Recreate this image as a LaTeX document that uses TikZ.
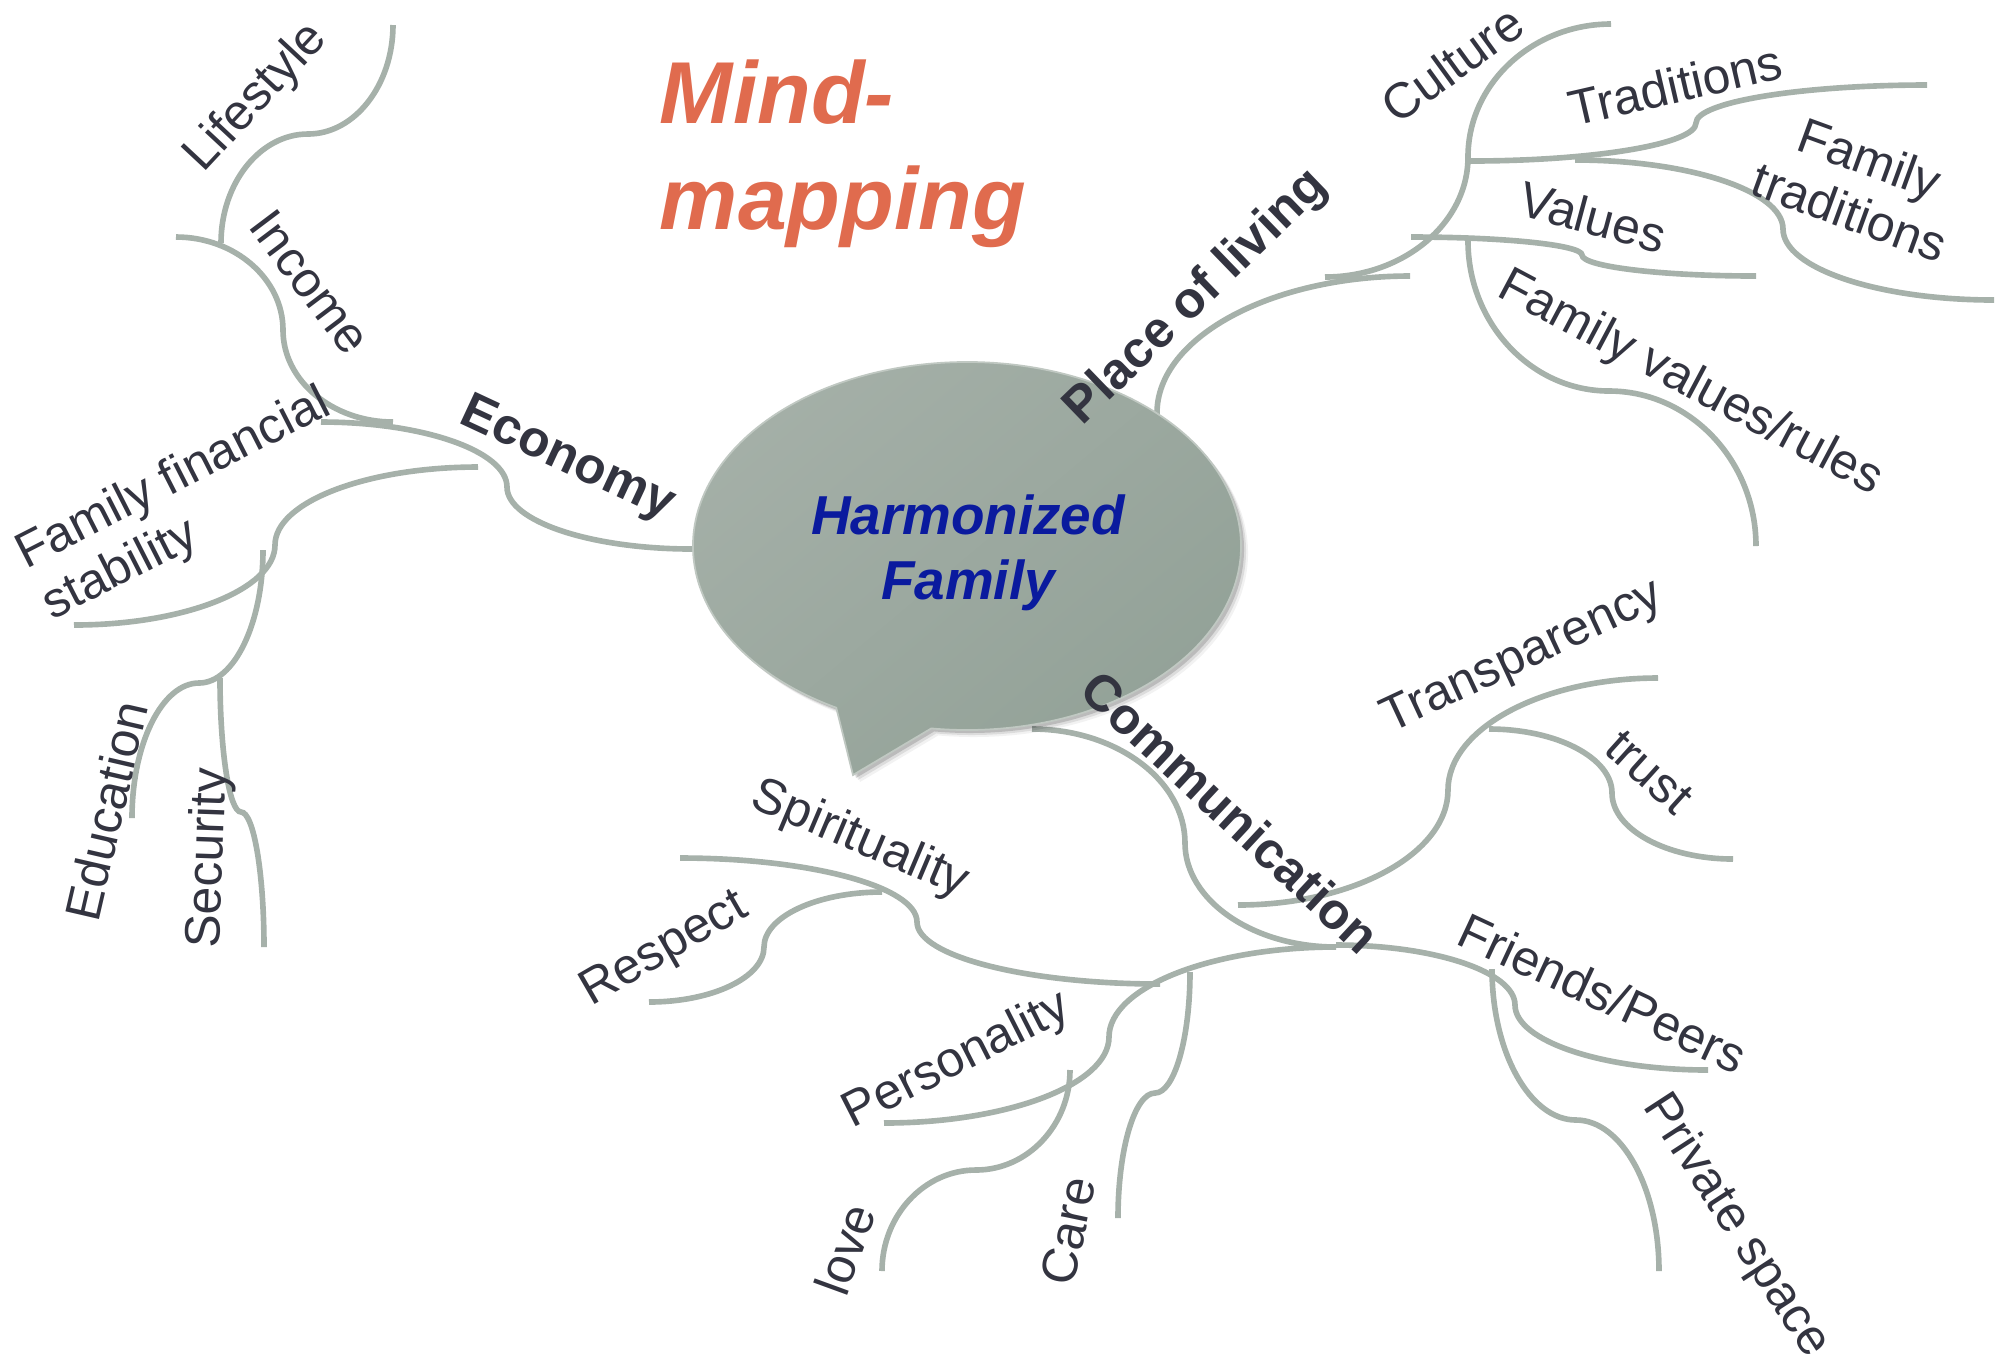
\documentclass[tikz,border=0pt]{standalone}
\usepackage{fontspec}
\setmainfont{Liberation Sans}
\usetikzlibrary{calc}
\definecolor{brc}{RGB}{166,177,170}
\definecolor{txc}{RGB}{51,52,64}
\definecolor{ttl}{RGB}{224,107,78}
\definecolor{hfc}{RGB}{10,26,158}
\definecolor{bubL}{RGB}{165,176,168}
\definecolor{bubD}{RGB}{146,161,151}
\newcommand\lblf{\fontsize{14.2}{16.2}\selectfont}
\newcommand\catf{\fontsize{14.5}{17}\selectfont\bfseries}
\newcommand\hff{\fontsize{15.6}{18.5}\selectfont\bfseries\itshape}
\newcommand\ttlf{\fontsize{25}{30.2}\selectfont\bfseries\itshape}
% S-branch: horizontal tangents at the ends, vertical at the middle
\newcommand\brH[3]{\draw[br] (#1) .. controls ($(#1)!0.55!(#2 |- #1)$) and ($(#2)!0.55!(#2 |- #1)$) .. (#2) .. controls ($(#2)!0.55!(#2 |- #3)$) and ($(#3)!0.55!(#2 |- #3)$) .. (#3);}
% S-branch: vertical tangents at the ends, horizontal at the middle
\newcommand\brV[3]{\draw[br] (#1) .. controls ($(#1)!0.55!(#1 |- #2)$) and ($(#2)!0.55!(#1 |- #2)$) .. (#2) .. controls ($(#2)!0.55!(#3 |- #2)$) and ($(#3)!0.55!(#3 |- #2)$) .. (#3);}
\begin{document}
\begin{tikzpicture}[x=0.01cm,y=-0.01cm,
  br/.style={draw=brc, line width=1.6pt},
  lbl/.style={text=txc, inner sep=0pt, font=\lblf},
  catl/.style={text=txc, inner sep=0pt, font=\catf}]
\useasboundingbox (0,0) rectangle (2002,1362);
% ---------- branch points ----------
% Economy
\coordinate (ea) at (692,549);  \coordinate (em) at (507,487);  \coordinate (eb) at (321,422);
\coordinate (la) at (393,25);   \coordinate (lm) at (308,134);  \coordinate (lb) at (221,243);
\coordinate (ia) at (176,237);  \coordinate (im) at (283,330);  \coordinate (ib) at (393,422);
\coordinate (fa) at (478,467);  \coordinate (fm) at (275,545);  \coordinate (fb) at (74,625);
\coordinate (da) at (263,550);  \coordinate (dm) at (199,683);  \coordinate (db) at (132,818);
\coordinate (sa) at (220,678);  \coordinate (sm) at (241,812);  \coordinate (sb) at (264,947);
% Place of living
\coordinate (pa) at (1410,276); \coordinate (pm) at (1157,413); \coordinate (pb) at (904,550);
\coordinate (ca) at (1611,24);  \coordinate (cm) at (1468,157); \coordinate (cb) at (1325,277);
\coordinate (ta) at (1470,161); \coordinate (tm) at (1696,123); \coordinate (tb) at (1927,85);
\coordinate (fta) at (1575,160); \coordinate (ftm) at (1783,229); \coordinate (ftb) at (1994,300);
\coordinate (va) at (1411,237); \coordinate (vm) at (1582,255); \coordinate (vb) at (1756,276);
\coordinate (fva) at (1468,241); \coordinate (fvm) at (1609,391); \coordinate (fvb) at (1756,546);
% Communication
\coordinate (ka) at (1032,729); \coordinate (km) at (1185,843); \coordinate (kb) at (1336,947);
\coordinate (tra) at (1658,678); \coordinate (trm) at (1448,790); \coordinate (trb) at (1238,905);
\coordinate (ua) at (1489,729); \coordinate (um) at (1612,793); \coordinate (ub) at (1733,859);
\coordinate (fra) at (1336,945); \coordinate (frm) at (1515,1005); \coordinate (frb) at (1708,1070);
\coordinate (pra) at (1492,969); \coordinate (prm) at (1576,1120); \coordinate (prb) at (1659,1271);
\coordinate (pea) at (1336,947); \coordinate (pem) at (1109,1037); \coordinate (peb) at (884,1123);
\coordinate (spa) at (1160,984); \coordinate (spm) at (917,922); \coordinate (spb) at (680,858);
\coordinate (rea) at (882,892); \coordinate (rem) at (764,947); \coordinate (reb) at (649,1002);
\coordinate (loa) at (1070,1070); \coordinate (lom) at (976,1170); \coordinate (lob) at (882,1271);
\coordinate (caa) at (1190,972); \coordinate (cam) at (1155,1093); \coordinate (cab) at (1118,1218);
% ---------- branches ----------
\brH{ea}{em}{eb} \brV{la}{lm}{lb} \brH{ia}{im}{ib} \brH{fa}{fm}{fb}
\brV{da}{dm}{db} \brV{sa}{sm}{sb}
\brH{pa}{pm}{pb} \brH{ca}{cm}{cb} \brH{ta}{tm}{tb} \brH{fta}{ftm}{ftb}
\brH{va}{vm}{vb} \brV{fva}{fvm}{fvb}
\brH{ka}{km}{kb} \brH{tra}{trm}{trb} \brH{ua}{um}{ub} \brH{fra}{frm}{frb}
\brV{pra}{prm}{prb} \brH{pea}{pem}{peb} \brH{spa}{spm}{spb} \brH{rea}{rem}{reb}
\brV{loa}{lom}{lob} \brV{caa}{cam}{cab}
% ---------- central speech bubble ----------
\foreach \s/\o in {7/0.05,5/0.09,3/0.15}{
  \fill[black, opacity=\o] (967+\s,546+\s) ++(118.5:274 and 184)
    arc[start angle=118.5, end angle=457.5, x radius=274, y radius=184]
    -- (853+\s,775+\s) -- cycle;}
\shade[top color=bubL, middle color=bubL, bottom color=bubD, shading angle=40,
       draw=bubL!70!white, line width=0.5pt]
  (967,546) ++(118.5:274 and 184)
  arc[start angle=118.5, end angle=457.5, x radius=274, y radius=184]
  -- (853,775) -- cycle;
\node[text=hfc, font=\hff, align=center, inner sep=0pt] (hub) at (968,553) {Harmonized\\Family};
% ---------- title ----------
\node[text=ttl, font=\ttlf, align=left, inner sep=0pt] (title) at (843,154) {Mind-\\mapping};
% ---------- labels ----------
\node[lbl, rotate=47] (lifestyle) at (257,98) {Lifestyle};
\node[lbl, rotate=-53] (income) at (310,282) {Income};
\node[catl, rotate=-25] (economy) at (567,460) {Economy};
\node[lbl, rotate=27, align=left] (ffs) at (187,505) {Family financial\\stability};
\node[lbl, rotate=77] (education) at (106,811) {Education};
\node[lbl, rotate=88] (security) at (210,858) {Security};
\node[catl, rotate=44] (place) at (1197,298) {Place of living};
\node[lbl, rotate=36] (culture) at (1452,64) {Culture};
\node[lbl, rotate=13] (traditions) at (1675,85) {Traditions};
\node[lbl, rotate=-20, align=center] (famtrad) at (1860,185) {Family\\traditions};
\node[lbl, rotate=-15] (values) at (1593,217) {Values};
\node[lbl, rotate=-28] (famval) at (1690,384) {Family values/rules};
\node[lbl, rotate=25] (transp) at (1523,658) {Transparency};
\node[lbl, rotate=-42] (trust) at (1649,772) {trust};
\node[catl, rotate=-43] (comm) at (1231,812) {Communication};
\node[lbl, rotate=-25] (friends) at (1603,993) {Friends/Peers};
\node[lbl, rotate=-57] (private) at (1736,1226) {Private space};
\node[lbl, rotate=-23] (spirit) at (860,840) {Spirituality};
\node[lbl, rotate=30] (respect) at (665,950) {Respect};
\node[lbl, rotate=27] (person) at (957,1061) {Personality};
\node[lbl, rotate=70] (love) at (845,1249) {love};
\node[lbl, rotate=78] (care) at (1068,1231) {Care};
\end{tikzpicture}
\end{document}
